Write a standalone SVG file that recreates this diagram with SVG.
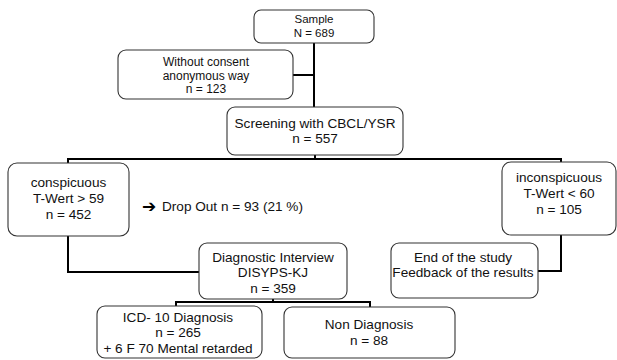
<svg xmlns="http://www.w3.org/2000/svg" width="617" height="360" viewBox="0 0 617 360">
<style>
.box{fill:#fff;stroke:#333;stroke-width:1.1}
.t{font-family:"Liberation Sans",Arial,sans-serif;font-size:13.6px;fill:#111;text-anchor:middle}
.s{font-size:11.5px}
.m{font-size:12px}
.c{fill:none;stroke:#000;stroke-width:2}
</style>
<rect width="617" height="360" fill="#fff"/>
<g id="connectors">
<path class="c" d="M314 43V107M293 75H314"/>
<path class="c" d="M315 155V159M68 164V159H561V163"/>
<path class="c" d="M68 236V272H199"/>
<path class="c" d="M273 299V302M176 307V302H370V307"/>
<path class="c" d="M561 235V271H538"/>
</g>
<g id="sample"><rect class="box" x="254" y="10" width="120" height="33" rx="7"/>
<text class="t s" x="314" y="23">Sample</text><text class="t s" x="314" y="37">N = 689</text></g>
<g id="without"><rect class="box" x="118" y="50" width="175" height="49" rx="8"/>
<text class="t m" x="206" y="66">Without consent</text><text class="t m" x="206" y="79.5">anonymous way</text><text class="t m" x="206" y="93">n = 123</text></g>
<g id="screening"><rect class="box" x="227" y="107" width="176" height="48" rx="8"/>
<text class="t" x="315" y="128">Screening with CBCL/YSR</text><text class="t" x="315" y="143">n = 557</text></g>
<g id="conspicuous"><rect class="box" x="8" y="163" width="121" height="73" rx="9"/>
<text class="t" x="68.5" y="187">conspicuous</text><text class="t" x="68.5" y="203">T-Wert &gt; 59</text><text class="t" x="68.5" y="219">n = 452</text></g>
<g id="dropout"><text x="142" y="212" style="font-family:'DejaVu Sans',sans-serif;font-size:17px;font-weight:bold;fill:#000">➔</text>
<text class="t" x="162" y="211" style="text-anchor:start">Drop Out n = 93 (21 %)</text></g>
<g id="inconspicuous"><rect class="box" x="502" y="162" width="114" height="73" rx="9"/>
<text class="t" x="559" y="182">inconspicuous</text><text class="t" x="559" y="198">T-Wert &lt; 60</text><text class="t" x="559" y="214">n = 105</text></g>
<g id="diagnostic"><rect class="box" x="199" y="243" width="148" height="56" rx="8"/>
<text class="t" x="273" y="262">Diagnostic Interview</text><text class="t" x="273" y="277">DISYPS-KJ</text><text class="t" x="273" y="293">n = 359</text></g>
<g id="end"><rect class="box" x="391" y="243" width="147" height="55" rx="8"/>
<text class="t" x="463" y="262">End of the study</text><text class="t" x="463" y="277">Feedback of the results</text></g>
<g id="icd"><rect class="box" x="97" y="306" width="165" height="52" rx="8"/>
<text class="t" x="178" y="322">ICD- 10 Diagnosis</text><text class="t" x="178" y="337">n = 265</text><text class="t" x="178" y="353">+ 6 F 70 Mental retarded</text></g>
<g id="nondiag"><rect class="box" x="284" y="307" width="171" height="51" rx="8"/>
<text class="t" x="369" y="329">Non Diagnosis</text><text class="t" x="369" y="345">n = 88</text></g>
</svg>
